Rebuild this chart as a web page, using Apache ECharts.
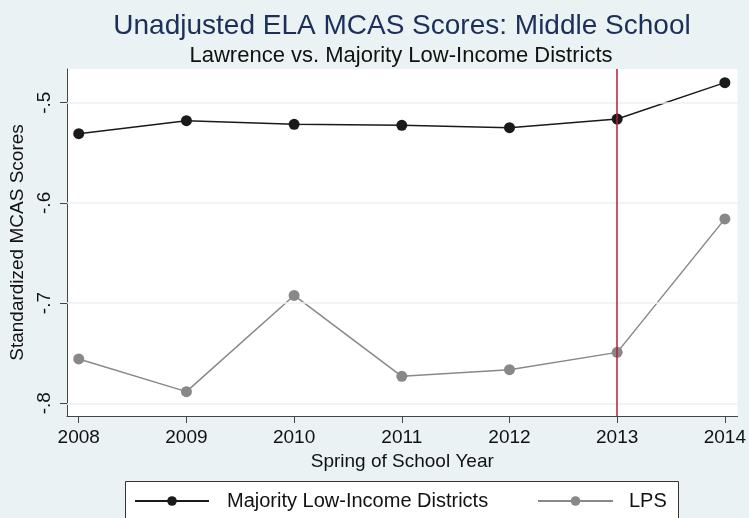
<!DOCTYPE html>
<html><head><meta charset="utf-8">
<script src="https://cdn.jsdelivr.net/npm/echarts@6/dist/echarts.min.js"></script>
<style>html,body{margin:0;padding:0;background:#EAF2F3}#c{width:749px;height:518px}</style>
</head><body><div id="c"></div>
<script>
const years = [2008, 2009, 2010, 2011, 2012, 2013, 2014];
const majority = [-0.531, -0.518, -0.5216, -0.5226, -0.525, -0.5163, -0.480];
const lps = [-0.7558, -0.7884, -0.6924, -0.7731, -0.7665, -0.7492, -0.616];
const yTicks = [-0.8, -0.7, -0.6, -0.5];
const policyYear = [2013];

const FONT = '"Liberation Sans", Arial, sans-serif';
const chart = echarts.init(document.getElementById('c'));
const fmtY = v => String(v).replace('0.', '.');

chart.setOption({
  backgroundColor: '#EAF2F3',
  animation: false,
  title: [
    {text: 'Unadjusted ELA MCAS Scores: Middle School', left: 397, top: 7, textAlign: 'center',
     textStyle: {fontFamily: FONT, fontSize: 28, fontWeight: 'normal', color: '#1C2E5A'}},
    {text: 'Lawrence vs. Majority Low-Income Districts', left: 396, top: 40, textAlign: 'center',
     textStyle: {fontFamily: FONT, fontSize: 22, fontWeight: 'normal', color: '#111'}}
  ],
  graphic: [
    {type: 'rect', left: 125, top: 481, shape: {width: 553, height: 50},
     style: {fill: '#fff', stroke: '#333', lineWidth: 1}, z: 0}
  ],
  legend: [
    {data: ['Majority Low-Income Districts'], left: 129, top: 486, itemWidth: 74, itemHeight: 12,
     textStyle: {fontFamily: FONT, fontSize: 20, color: '#111', padding: [0, 0, 0, 13]}, z: 5},
    {data: ['LPS'], left: 532, top: 486, itemWidth: 75, itemHeight: 12,
     textStyle: {fontFamily: FONT, fontSize: 20, color: '#111', padding: [0, 0, 0, 11]}, z: 5}
  ],
  grid: {left: 67, right: 11, top: 69, bottom: 102, show: true, backgroundColor: '#fff', borderWidth: 0, containLabel: false},
  xAxis: {
    type: 'value', min: 2007.891, max: 2014.118,
    name: 'Spring of School Year', nameLocation: 'middle', nameGap: 36,
    nameTextStyle: {fontFamily: FONT, fontSize: 19, color: '#111'},
    axisLine: {show: true, lineStyle: {color: '#444', width: 1}},
    axisTick: {show: true, length: 7, customValues: years, lineStyle: {color: '#444'}},
    axisLabel: {customValues: years, formatter: v => String(v), margin: 12,
      fontFamily: FONT, fontSize: 19, color: '#111'},
    splitLine: {show: false}
  },
  yAxis: {
    type: 'value', min: -0.8127, max: -0.4664,
    name: 'Standardized MCAS Scores', nameLocation: 'middle', nameGap: 36, nameRotate: 90,
    nameTextStyle: {fontFamily: FONT, fontSize: 19, color: '#111'},
    axisLine: {show: true, lineStyle: {color: '#444', width: 1}},
    axisTick: {show: true, length: 7, customValues: yTicks, lineStyle: {color: '#444'}},
    axisLabel: {customValues: yTicks, formatter: fmtY, rotate: 90, margin: 13,
      fontFamily: FONT, fontSize: 19, color: '#111'},
    splitLine: {show: false}
  },
  series: [
    {name: 'Majority Low-Income Districts', type: 'line', data: years.map((y, i) => [y, majority[i]]),
     symbol: 'circle', symbolSize: 11, lineStyle: {color: '#1a1a1a', width: 1.5},
     itemStyle: {color: '#1a1a1a'}, z: 4,
     markLine: {silent: true, symbol: 'none', label: {show: false},
       lineStyle: {color: '#EAF2F3', width: 1.5, type: 'solid'},
       data: yTicks.map(v => ({yAxis: v}))}},
    {name: 'LPS', type: 'line', data: years.map((y, i) => [y, lps[i]]),
     symbol: 'circle', symbolSize: 11, lineStyle: {color: '#888888', width: 1.5},
     itemStyle: {color: '#888888'}, z: 3,
     markLine: {silent: true, symbol: 'none', label: {show: false},
       lineStyle: {color: '#B21E3C', width: 1.5, type: 'solid'},
       data: policyYear.map(v => ({xAxis: v}))}}
  ]
});
</script></body></html>
